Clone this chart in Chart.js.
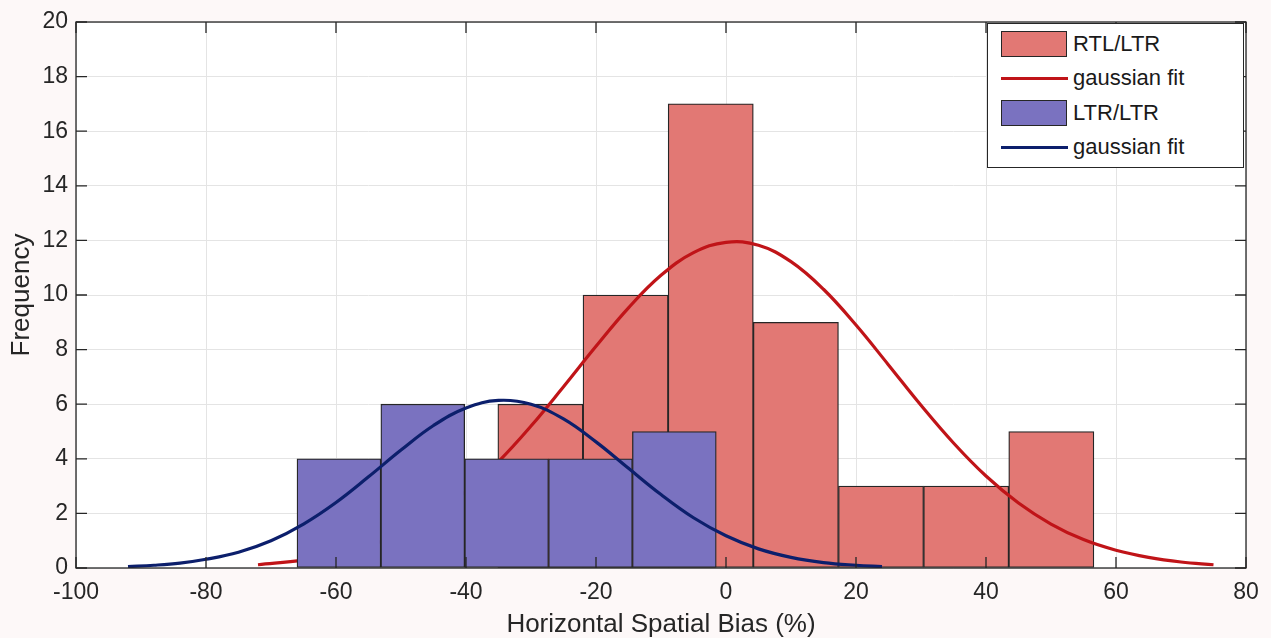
<!DOCTYPE html>
<html>
<head>
<meta charset="utf-8">
<script src="https://cdn.jsdelivr.net/npm/chart.js@4.4.1/dist/chart.umd.min.js"></script>
<style>
    html, body { margin: 0; padding: 0; background: #fdf8f8; }
    #wrap { position: relative; width: 1271px; height: 638px; }
    #legend {
        position: absolute; left: 987px; top: 23px; width: 257px; height: 145px;
        border: 1px solid #262626; background: #fff; box-sizing: border-box;
        font-family: 'Liberation Sans', Arial, sans-serif; font-size: 22px; color: #1a1a1a;
    }
    .row { position: absolute; left: 13px; height: 26px; display: flex; align-items: center; }
    .swatch { width: 66px; height: 26px; box-sizing: border-box; border: 1px solid #262626; margin-right: 6px; }
    .line { width: 67px; height: 3px; margin-right: 5px; }
</style>
</head>
<body>
<div id="wrap">
    <canvas id="chart" width="1271" height="638"></canvas>
    <div id="legend"></div>
</div>
<script>
// histogram bins (centres)
const rtlCentres = [-28.55, -15.45, -2.35, 10.75, 23.85, 36.95, 50.05];
const rtlCounts = [6, 10, 17, 9, 3, 3, 5];
const ltrCentres = [-59.55, -46.65, -33.75, -20.85, -7.95];
const ltrCounts = [4, 6, 4, 4, 5];

// gaussian fit curves
const rtlFitX = [-72, -65, -60, -55, -50, -45, -40, -35, -30, -25, -20, -15, -10, -5, 0, 5, 10, 15, 20, 25, 30, 35, 40, 45, 50, 55, 60, 65, 70, 75];
const rtlFitY = [0.12, 0.29, 0.49, 0.81, 1.28, 1.94, 2.81, 3.9, 5.2, 6.64, 8.12, 9.53, 10.72, 11.55, 11.93, 11.82, 11.22, 10.21, 8.9, 7.44, 5.96, 4.58, 3.37, 2.38, 1.61, 1.04, 0.65, 0.39, 0.22, 0.12];
const ltrFitX = [-92, -88, -84, -80, -75, -70, -65, -60, -55, -50, -45, -40, -35, -30, -25, -20, -15, -10, -5, 0, 5, 10, 15, 20, 24];
const ltrFitY = [0.05, 0.1, 0.18, 0.32, 0.58, 1.0, 1.61, 2.4, 3.34, 4.32, 5.22, 5.86, 6.14, 6.0, 5.46, 4.62, 3.65, 2.69, 1.84, 1.18, 0.7, 0.39, 0.2, 0.1, 0.05];

const xTicks = [-100, -80, -60, -40, -20, 0, 20, 40, 60, 80];
const yTicks = [0, 2, 4, 6, 8, 10, 12, 14, 16, 18, 20];

const RED_FILL = '#e27874';
const BLUE_FILL = '#7a72c0';
const RED_LINE = '#c01418';
const BLUE_LINE = '#0c1f6c';
const EDGE = '#262626';

const pairs = (xs, ys) => xs.map((x, i) => ({ x: x, y: ys[i] }));

// white plot area, box frame and inward ticks (matlab style)
const frame = {
    id: 'frame',
    beforeDraw(chart) {
        const { ctx, chartArea: a } = chart;
        ctx.save();
        ctx.fillStyle = '#fff';
        ctx.fillRect(a.left, a.top, a.right - a.left, a.bottom - a.top);
        ctx.restore();
    },
    afterDraw(chart) {
        const { ctx, chartArea: a, scales } = chart;
        ctx.save();
        ctx.strokeStyle = EDGE;
        ctx.lineWidth = 1.3;
        ctx.strokeRect(a.left, a.top, a.right - a.left, a.bottom - a.top);
        ctx.beginPath();
        const len = 11;
        xTicks.forEach(v => {
            const px = scales.x.getPixelForValue(v);
            ctx.moveTo(px, a.bottom); ctx.lineTo(px, a.bottom - len);
            ctx.moveTo(px, a.top); ctx.lineTo(px, a.top + len);
        });
        yTicks.forEach(v => {
            const py = scales.y.getPixelForValue(v);
            ctx.moveTo(a.left, py); ctx.lineTo(a.left + len, py);
            ctx.moveTo(a.right, py); ctx.lineTo(a.right - len, py);
        });
        ctx.stroke();
        ctx.restore();
    }
};

const tickFont = { family: "'Liberation Sans', Arial, sans-serif", size: 23 };
const titleFont = { family: "'Liberation Sans', Arial, sans-serif", size: 26, lineHeight: 1 };

new Chart(document.getElementById('chart'), {
    data: {
        datasets: [
            {
                type: 'line', label: 'gaussian fit', data: pairs(ltrFitX, ltrFitY),
                borderColor: BLUE_LINE, borderWidth: 3.2, pointRadius: 0,
                tension: 0.4, order: 0
            },
            {
                type: 'bar', label: 'LTR/LTR', data: pairs(ltrCentres, ltrCounts), xAxisID: 'x2',
                backgroundColor: BLUE_FILL, borderColor: EDGE, borderWidth: 1.3, borderSkipped: false,
                barPercentage: 1, categoryPercentage: 1, grouped: false, order: 1
            },
            {
                type: 'line', label: 'gaussian fit', data: pairs(rtlFitX, rtlFitY),
                borderColor: RED_LINE, borderWidth: 3.2, pointRadius: 0,
                tension: 0.4, order: 2
            },
            {
                type: 'bar', label: 'RTL/LTR', data: pairs(rtlCentres, rtlCounts), xAxisID: 'x',
                backgroundColor: RED_FILL, borderColor: EDGE, borderWidth: 1.3, borderSkipped: false,
                barPercentage: 1, categoryPercentage: 1, grouped: false, order: 3
            }
        ]
    },
    options: {
        responsive: false,
        animation: false,
        layout: { padding: { top: 22, right: 25, left: 0, bottom: 0 } },
        plugins: { legend: { display: false }, tooltip: { enabled: false } },
        scales: {
            x: {
                type: 'linear', min: -100, max: 80, offset: false,
                afterBuildTicks: s => { s.ticks = xTicks.map(v => ({ value: v })); },
                afterFit: s => { s.height = 70; },
                grid: { color: '#e4e4e4', drawTicks: false, offset: false },
                border: { display: false },
                ticks: { font: tickFont, color: '#262626', padding: 11, maxRotation: 0 },
                title: { display: true, text: 'Horizontal Spatial Bias (%)', font: titleFont, color: '#262626', padding: 0 }
            },
            x2: {
                type: 'linear', min: -100, max: 80, offset: false, display: false,
                afterBuildTicks: s => { s.ticks = xTicks.map(v => ({ value: v })); }
            },
            y: {
                min: 0, max: 20,
                afterBuildTicks: s => { s.ticks = yTicks.map(v => ({ value: v })); },
                afterFit: s => { s.width = 76; },
                grid: { color: '#e4e4e4', drawTicks: false },
                border: { display: false },
                ticks: { font: tickFont, color: '#262626', padding: 8 },
                title: { display: true, text: 'Frequency', font: titleFont, color: '#262626', padding: { top: 9, bottom: 0 } }
            }
        }
    },
    plugins: [frame]
});

// legend box in the top right corner
const legendItems = [
    { kind: 'box', color: RED_FILL, text: 'RTL/LTR', top: 7 },
    { kind: 'line', color: RED_LINE, text: 'gaussian fit', top: 41 },
    { kind: 'box', color: BLUE_FILL, text: 'LTR/LTR', top: 76 },
    { kind: 'line', color: BLUE_LINE, text: 'gaussian fit', top: 110 }
];
const legend = document.getElementById('legend');
legendItems.forEach(it => {
    const row = document.createElement('div');
    row.className = 'row';
    row.style.top = it.top + 'px';
    const mark = document.createElement('span');
    mark.className = it.kind === 'box' ? 'swatch' : 'line';
    mark.style.background = it.color;
    const label = document.createElement('span');
    label.textContent = it.text;
    row.appendChild(mark);
    row.appendChild(label);
    legend.appendChild(row);
});
</script>
</body>
</html>
